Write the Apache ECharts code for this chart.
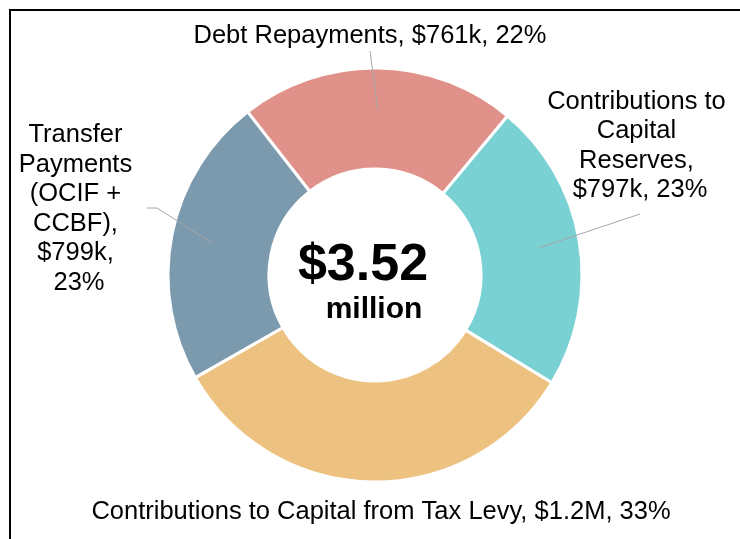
<!DOCTYPE html>
<html>
<head>
<meta charset="utf-8">
<script src="https://cdn.jsdelivr.net/npm/echarts@6/dist/echarts.min.js"></script>
<style>
  html, body { margin: 0; padding: 0; background: #fff; }
  #chart { position: absolute; left: 0; top: 0; width: 740px; height: 539px; }
  #frame { position: absolute; left: 9px; top: 9px; right: 0; bottom: 0;
           border-left: 2px solid #000; border-top: 2px solid #000; pointer-events: none; }
</style>
</head>
<body>
<div id="chart"></div>
<div id="frame"></div>
<script>
// Capital budget funding uses, in thousands of dollars
const categories = [
  'Debt Repayments',
  'Contributions to Capital Reserves',
  'Contributions to Capital from Tax Levy',
  'Transfer Payments (OCIF + CCBF)'
];
const amountsK = [761, 797, 1163, 799];

// Ring colours, one per category
const sliceColors = ['#E0928A', '#7AD1D4', '#EDC281', '#7C9AAE'];

// Label placement: centre of each text block, wrap width, and where its leader line ends
const labelSpots = [
  { x: 370, y: 36,  wrap: null, tip: [0, 15] },
  { x: 640, y: 146, wrap: 190,  tip: [0, 68] },
  { x: 381, y: 512, wrap: null, tip: null },
  { x: 79,  y: 209, wrap: 122,  tip: [68, -1], knee: [10, 0] }
];

const total = amountsK.reduce((a, b) => a + b, 0);

function money(k) {
  return k >= 1000 ? '$' + (k / 1000).toFixed(1) + 'M' : '$' + k + 'k';
}
function labelText(i) {
  const pct = Math.round(amountsK[i] / total * 100);
  return categories[i] + ', ' + money(amountsK[i]) + ', ' + pct + '%';
}

const center = [375, 275];
const font = 'Liberation Sans';

const chart = echarts.init(document.getElementById('chart'), null, { renderer: 'canvas' });

chart.setOption({
  animation: false,
  series: [
    {
      // the visible doughnut ring
      type: 'pie',
      z: 2,
      center: center,
      radius: [106, 207],
      startAngle: 128,
      clockwise: true,
      silent: true,
      label: { show: false },
      labelLine: { show: false },
      itemStyle: { borderColor: '#fff', borderWidth: 3 },
      emphasis: { disabled: true },
      data: categories.map((name, i) => ({
        name: name,
        value: amountsK[i],
        itemStyle: { color: sliceColors[i] }
      }))
    },
    {
      // transparent twin carrying the labels, so leader lines start mid-ring
      type: 'pie',
      z: 4,
      center: center,
      radius: [0, 166],
      startAngle: 128,
      clockwise: true,
      silent: true,
      avoidLabelOverlap: false,
      itemStyle: { color: 'rgba(0,0,0,0)' },
      emphasis: { disabled: true },
      label: {
        show: true,
        position: 'outside',
        color: '#000',
        fontFamily: font,
        fontSize: 25.5,
        lineHeight: 29.5,
        overflow: 'break',
        formatter: p => labelText(p.dataIndex)
      },
      labelLine: {
        show: true,
        length: 10,
        length2: 10,
        lineStyle: { color: '#A6A6A6', width: 1 }
      },
      labelLayout: function (p) {
        const s = labelSpots[p.dataIndex];
        const out = { x: s.x, y: s.y, align: 'center', verticalAlign: 'middle' };
        if (s.tip && p.labelLinePoints) {
          const start = p.labelLinePoints[0];
          const tip = [s.x + s.tip[0], s.y + s.tip[1]];
          const pts = [start];
          if (s.knee) pts.push([tip[0] + s.knee[0], tip[1] + s.knee[1]]);
          pts.push(tip);
          out.labelLinePoints = pts;
        }
        return out;
      },
      data: categories.map((name, i) => ({
        name: name,
        value: amountsK[i],
        label: labelSpots[i].wrap ? { width: labelSpots[i].wrap } : {},
        labelLine: { show: !!labelSpots[i].tip }
      }))
    }
  ],
  graphic: [
    {
      type: 'text',
      z: 10,
      x: center[0] - 12,
      y: center[1] - 9,
      style: {
        text: '$' + (total / 1000).toFixed(2),
        font: 'bold 52px "Liberation Sans"',
        fill: '#000',
        align: 'center',
        verticalAlign: 'middle'
      }
    },
    {
      type: 'text',
      z: 10,
      x: center[0] - 1,
      y: center[1] + 35,
      style: {
        text: 'million',
        font: 'bold 30px "Liberation Sans"',
        fill: '#000',
        align: 'center',
        verticalAlign: 'middle'
      }
    }
  ]
});
</script>
</body>
</html>
